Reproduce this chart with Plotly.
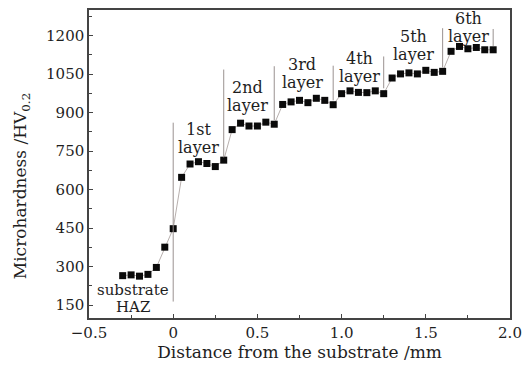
import plotly.graph_objects as go

# Data
distance_mm = [-0.30, -0.25, -0.20, -0.15, -0.10, -0.05, 0.00,
               0.05, 0.10, 0.15, 0.20, 0.25, 0.30,
               0.35, 0.40, 0.45, 0.50, 0.55, 0.60,
               0.65, 0.70, 0.75, 0.80, 0.85, 0.90, 0.95,
               1.00, 1.05, 1.10, 1.15, 1.20, 1.25,
               1.30, 1.35, 1.40, 1.45, 1.50, 1.55, 1.60,
               1.65, 1.70, 1.75, 1.80, 1.85, 1.90]
hardness_hv = [265, 268, 263, 270, 297, 376, 448,
               648, 700, 709, 702, 690, 715,
               834, 859, 848, 848, 863, 855,
               932, 942, 948, 939, 956, 948, 931,
               974, 985, 979, 978, 985, 974,
               1035, 1051, 1055, 1051, 1065, 1057, 1061,
               1139, 1158, 1149, 1154, 1145, 1145]

boundary_x = [0.00, 0.30, 0.60, 0.95, 1.25, 1.60, 1.90]
boundary_lo = [164, 726, 870, 948, 995, 1076, 1160]
boundary_hi = [861, 1068, 1081, 1083, 1119, 1229, 1226]

layer_names = ["1st", "2nd", "3rd", "4th", "5th", "6th"]
layer_label_x = [0.153, 0.439, 0.767, 1.107, 1.425, 1.755]
layer_label_y = [836, 999, 1087, 1113, 1197, 1268]

x_ticks = [-0.5, 0, 0.5, 1.0, 1.5, 2.0]
x_tick_text = ["\u22120.5", "0", "0.5", "1.0", "1.5", "2.0"]
y_ticks = [150, 300, 450, 600, 750, 900, 1050, 1200]

FONT = "DejaVu Serif"
TXT = "#1e1e1e"

fig = go.Figure()

# boundary lines
for bx, lo, hi in zip(boundary_x, boundary_lo, boundary_hi):
    fig.add_shape(type="line", x0=bx, x1=bx, y0=lo, y1=hi, xref="x", yref="y",
                  line=dict(color="#9a9290", width=1))

fig.add_trace(go.Scatter(
    x=distance_mm, y=hardness_hv, mode="lines+markers",
    line=dict(color="#b8b0ae", width=1),
    marker=dict(symbol="square", size=7, color="#0a0a0a"),
    showlegend=False,
))

annotations = []
for name, lx, ly in zip(layer_names, layer_label_x, layer_label_y):
    annotations.append(dict(x=lx, y=ly, text=name, showarrow=False,
                            font=dict(family=FONT, size=16, color=TXT)))
    annotations.append(dict(x=lx, y=ly - 71, text="layer", showarrow=False,
                            font=dict(family=FONT, size=16, color=TXT)))
annotations.append(dict(x=-0.24, y=211, text="substrate", showarrow=False,
                        font=dict(family=FONT, size=15, color=TXT)))
annotations.append(dict(x=-0.24, y=141, text="HAZ", showarrow=False,
                        font=dict(family=FONT, size=15, color=TXT)))
annotations.append(dict(x=-0.16, xref="paper", xanchor="center", y=612, yref="y",
                        text="Microhardness /HV<sub>0.2</sub>", textangle=-90,
                        showarrow=False, font=dict(family=FONT, size=17, color=TXT)))

fig.update_layout(
    width=530, height=369,
    margin=dict(l=89, r=17, t=8, b=51),
    paper_bgcolor="white", plot_bgcolor="white",
    font=dict(family=FONT, size=15, color=TXT),
    annotations=annotations,
    xaxis=dict(
        range=[-0.5, 2.0], tickvals=x_ticks, ticktext=x_tick_text,
        ticks="inside", ticklen=4, tickwidth=1, tickcolor="#444",
        showline=True, linecolor="#444", linewidth=1.5, mirror=True,
        showgrid=False, zeroline=False,
        minor=dict(dtick=0.25, ticks="inside", ticklen=3, tickcolor="#444"),
        title=dict(text="Distance from the substrate /mm", font=dict(family=FONT, size=17, color=TXT),
                   standoff=4),
        tickfont=dict(family=FONT, size=15, color=TXT),
    ),
    yaxis=dict(
        range=[100, 1300], tickvals=y_ticks,
        ticks="inside", ticklen=4, tickwidth=1, tickcolor="#444",
        showline=True, linecolor="#444", linewidth=1.5, mirror=True,
        showgrid=False, zeroline=False,
        minor=dict(tickvals=[225, 375, 525, 675, 825, 975, 1125, 1275],
                   ticks="inside", ticklen=3, tickcolor="#444"),
        tickfont=dict(family=FONT, size=15, color=TXT),
    ),
)

fig.write_html("out.html", config={"displayModeBar": False},
               post_script="document.body.style.margin='0';")
